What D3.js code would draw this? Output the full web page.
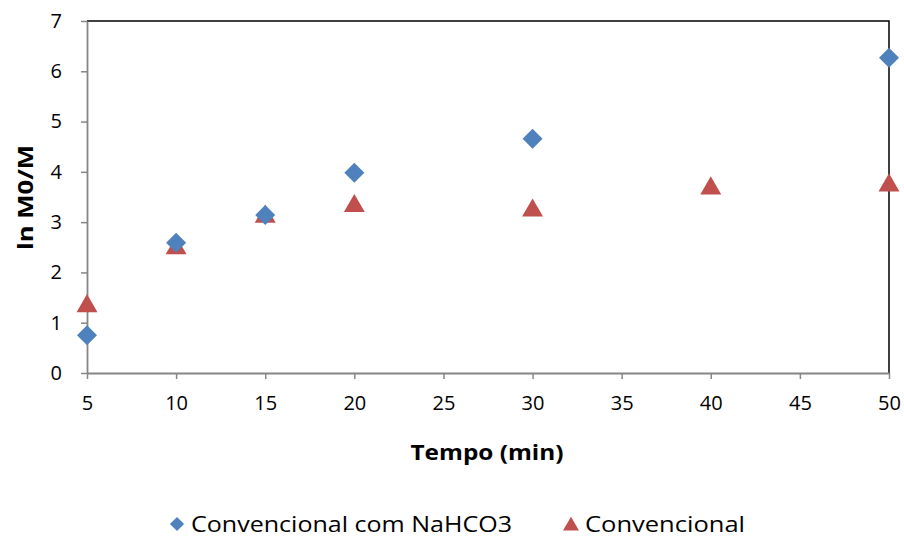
<!DOCTYPE html>
<html><head><meta charset="utf-8">
<script src="https://cdn.jsdelivr.net/npm/d3@7/dist/d3.min.js"></script>
<style>body{margin:0;background:#fff}svg{display:block}text{font-family:"Open Sans",sans-serif;fill:#000}</style>
</head><body>
<script>
const seriesNames = ["Convencional com NaHCO3", "Convencional"];
const timeNaHCO3 = [5, 10, 15, 20, 30, 50];
const valNaHCO3 = [0.75, 2.59, 3.14, 3.98, 4.66, 6.27];
const timeConv = [5, 10, 15, 20, 30, 40, 50];
const valConv = [1.37, 2.52, 3.15, 3.36, 3.27, 3.71, 3.77];
const xTicks = [5, 10, 15, 20, 25, 30, 35, 40, 45, 50];
const yTicks = [0, 1, 2, 3, 4, 5, 6, 7];

const W = 904, H = 537;
const m = {left: 87, right: 889, top: 21, bottom: 373};
const svg = d3.select("body").append("svg").attr("width", W).attr("height", H);
const x = d3.scaleLinear().domain([5, 50]).range([m.left, m.right]);
const y = d3.scaleLinear().domain([0, 7]).range([m.bottom, m.top]);

svg.append("path").attr("d", `M${m.left},${m.top}H${m.right}V${m.bottom}`)
  .attr("fill", "none").attr("stroke", "#000").attr("stroke-width", 1.5);

const gx = svg.append("g").attr("transform", `translate(0,${m.bottom})`)
  .call(d3.axisBottom(x).tickValues(xTicks).tickFormat(d3.format("d")).tickSize(6).tickPadding(12).tickSizeOuter(0));
const gy = svg.append("g").attr("transform", `translate(${m.left},0)`)
  .call(d3.axisLeft(y).tickValues(yTicks).tickFormat(d3.format("d")).tickSize(6).tickPadding(19).tickSizeOuter(0));
[gx, gy].forEach(g => {
  g.select(".domain").attr("stroke", "#868686").attr("stroke-width", 1.8);
  g.selectAll(".tick line").attr("stroke", "#868686").attr("stroke-width", 1.5);
  g.selectAll(".tick text").attr("font-size", 20).attr("font-family", "'Open Sans', sans-serif").attr("fill", "#000");
});
gx.selectAll(".tick text").attr("dy", "0.95em");

svg.append("text").attr("x", 487).attr("y", 460).attr("text-anchor", "middle")
  .attr("font-size", 21).attr("font-weight", "bold")
  .attr("textLength", 153).attr("lengthAdjust", "spacingAndGlyphs").text("Tempo (min)");
svg.append("text").attr("transform", "translate(33,197.5) rotate(-90)").attr("text-anchor", "middle")
  .attr("font-size", 21).attr("font-weight", "bold")
  .attr("textLength", 105).attr("lengthAdjust", "spacingAndGlyphs").text("ln M0/M");

const diamond = d3.symbol().type(d3.symbolSquare).size(200);
const tri = d3.symbol().type(d3.symbolTriangle).size(190);

svg.append("g").selectAll("path").data(timeConv.map((t, i) => [t, valConv[i]])).join("path")
  .attr("d", tri).attr("fill", "#C0504D")
  .attr("transform", d => `translate(${x(d[0])},${y(d[1]) + 2})`);
svg.append("g").selectAll("path").data(timeNaHCO3.map((t, i) => [t, valNaHCO3[i]])).join("path")
  .attr("d", diamond).attr("fill", "#4F81BD")
  .attr("transform", d => `translate(${x(d[0])},${y(d[1])}) rotate(45)`);

const lg = svg.append("g");
lg.append("path").attr("d", d3.symbol().type(d3.symbolSquare).size(100)).attr("fill", "#4F81BD")
  .attr("transform", "translate(177,524) rotate(45)");
lg.append("text").attr("x", 191).attr("y", 532).attr("font-size", 22)
  .attr("textLength", 321).attr("lengthAdjust", "spacingAndGlyphs").text(seriesNames[0]);
lg.append("path").attr("d", d3.symbol().type(d3.symbolTriangle).size(110)).attr("fill", "#C0504D")
  .attr("transform", "translate(571,526)");
lg.append("text").attr("x", 585).attr("y", 532).attr("font-size", 22)
  .attr("textLength", 160).attr("lengthAdjust", "spacingAndGlyphs").text(seriesNames[1]);
</script>
</body></html>
